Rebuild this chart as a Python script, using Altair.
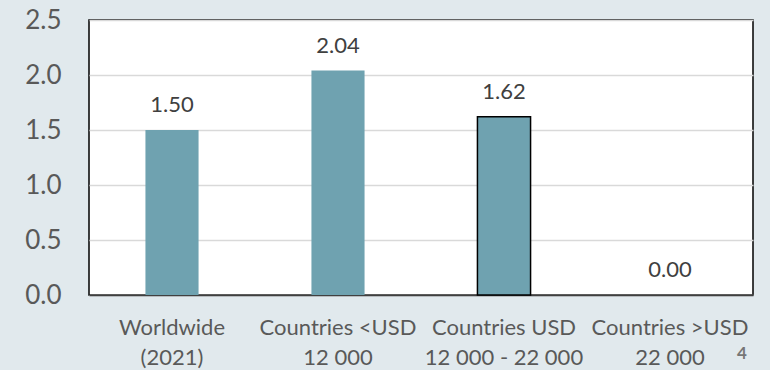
import altair as alt
import pandas as pd

categories = ["Worldwide\n(2021)", "Countries <USD\n12 000", "Countries USD\n12 000 - 22 000", "Countries >USD\n22 000"]
values = [1.50, 2.04, 1.62, 0.00]
outlined = [False, False, True, False]
y_ticks = [0.0, 0.5, 1.0, 1.5, 2.0, 2.5]

df = pd.DataFrame({"cat": categories, "val": values, "outlined": outlined})
df["lbl"] = df["val"].map(lambda v: f"{v:.2f}")

font = "Lato"
bar_color = "#6fa2b0"

x_enc = alt.X("cat:N", sort=categories, title=None,
              scale=alt.Scale(paddingInner=0.68, paddingOuter=0.34),
              axis=alt.Axis(labelExpr="split(datum.label, '\\n')", labelAngle=0,
                            labelFont=font, labelFontSize=22, labelColor="#595959",
                            labelPadding=22, labelLineHeight=30, labelBaseline="top",
                            ticks=False, domain=True, domainColor="#404040", domainWidth=1.5,
                            grid=False))
y_enc = alt.Y("val:Q", title=None,
              scale=alt.Scale(domain=[0, 2.5], nice=False),
              axis=alt.Axis(values=y_ticks, format=".1f", labelFont=font, labelFontSize=26,
                            labelColor="#595959", labelPadding=28, ticks=False, domain=False,
                            grid=True, gridColor="#d9d9d9", gridWidth=1.5))

base = alt.Chart(df)

bars = base.mark_bar(color=bar_color).encode(
    x=x_enc, y=y_enc,
    stroke=alt.condition("datum.outlined", alt.value("#000000"), alt.value(None)),
    strokeWidth=alt.condition("datum.outlined", alt.value(1.5), alt.value(0)),
)

labels = base.mark_text(font=font, fontSize=22, color="#404040", baseline="middle", dy=-25).encode(
    x=alt.X("cat:N", sort=categories), y="val:Q", text="lbl:N"
)

note = alt.Chart(pd.DataFrame({"t": ["4"]})).mark_text(
    font=font, fontSize=17, fontWeight="bold", color="#767676", align="center", baseline="middle"
).encode(x=alt.value(653), y=alt.value(334), text="t:N")

chart = alt.layer(bars, labels, note).properties(
    width=664, height=275,
    autosize=alt.AutoSizeParams(type="none"),
    padding={"left": 89, "top": 20, "right": 17, "bottom": 75},
    background="#e1e9ed",
).configure_view(stroke="#000000", strokeWidth=1.5, fill="#ffffff")

chart.save("out.html", embed_options={"renderer": "svg", "actions": False})
